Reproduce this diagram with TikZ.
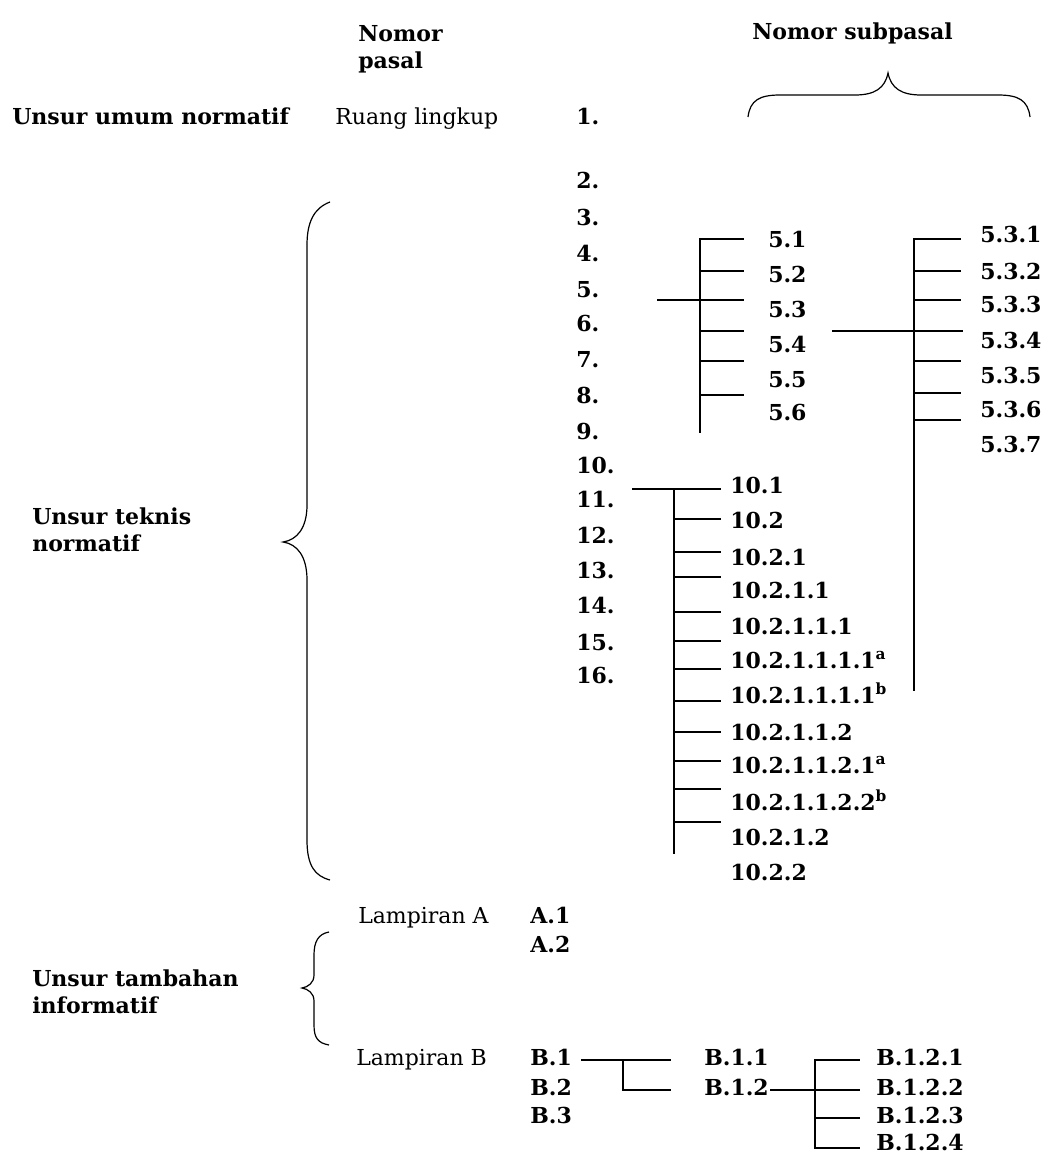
\documentclass[tikz,border=0pt]{standalone}
\usepackage{fontspec}
\setmainfont{DejaVu Serif}
\begin{document}
\begin{tikzpicture}[x=0.75pt,y=-0.75pt,
  lbl/.style={font=\bfseries\fontsize{16.5}{20}\selectfont, anchor=west, inner sep=0pt, text height=1.5ex, text depth=0pt},
  reg/.style={font=\fontsize{16.5}{20}\selectfont, anchor=west, inner sep=0pt, text height=1.5ex, text depth=0pt},
  grp/.style={font=\bfseries\fontsize{16.5}{20.5}\selectfont, anchor=west, inner sep=0pt, align=left},
  tree/.style={line width=1.5pt, line cap=rect},
  brace/.style={line width=0.9pt}]
\useasboundingbox (0,0) rectangle (1049,1155);

% column headings
\node[grp] (hpasal) at (358,49) {Nomor\\pasal};
\node[lbl] (hsub) at (752,34) {Nomor subpasal};

% brace over the subclause columns
\draw[brace] (748,117) .. controls (750,100) and (760,95) .. (780,95) -- (855,95)
  .. controls (875,95) and (885,88) .. (888,73)
  .. controls (891,88) and (901,95) .. (921,95) -- (998,95)
  .. controls (1018,95) and (1028,100) .. (1030,117);

% element groups
\node[lbl] (gumum) at (12,119) {Unsur umum normatif};
\node[reg] (ruang) at (335,119) {Ruang lingkup};
\node[grp] (gteknis) at (32,530) {Unsur teknis\\normatif};
\node[grp] (gtambah) at (32,992) {Unsur tambahan\\informatif};

% clause numbers
\node[lbl] (p1) at (576,119) {1.};
\foreach \n/\y in {2/183,3/220,4/256,5/292,6/326,7/362,8/398,9/434,
                   10/468,11/502,12/538,13/573,14/608,15/645,16/678}
  \node[lbl] (p\n) at (576,\y) {\n.};

% brace for the technical elements
\draw[brace] (330,202) .. controls (314,208) and (307,222) .. (307,245) -- (307,505)
  .. controls (307,528) and (297,540) .. (283,542)
  .. controls (297,544) and (307,556) .. (307,580) -- (307,840)
  .. controls (307,866) and (315,876) .. (330,880);

% subclauses of clause 5
\foreach \t/\y [count=\i] in {5.1/242,5.2/277,5.3/312,5.4/347,5.5/382,5.6/415}
  \node[lbl] (q\i) at (768,\y) {\t};
\coordinate (q-top) at (700,239);
\coordinate (q-bot) at (700,432);
\coordinate (q-in) at (658,300);
\draw[tree] (743,239) -- (q-top) -- (q-bot);
\draw[tree] (q-in) -- (743,300);
\foreach \y in {271,331,361,395} \draw[tree] (700,\y) -- (743,\y);

% subclauses of 5.3
\foreach \t/\y [count=\i] in {5.3.1/237,5.3.2/274,5.3.3/307,5.3.4/343,5.3.5/378,5.3.6/412,5.3.7/447}
  \node[lbl] (r\i) at (980,\y) {\t};
\coordinate (r-top) at (914,239);
\coordinate (r-bot) at (914,690);
\coordinate (r-in) at (833,331);
\draw[tree] (960,239) -- (r-top) -- (r-bot);
\draw[tree] (r-in) -- (962,331);
\foreach \y in {271,300,361,393,420} \draw[tree] (914,\y) -- (960,\y);

% subclauses of clause 10
\foreach \t/\y [count=\i] in {10.1/488,10.2/523,10.2.1/560,10.2.1.1/593,10.2.1.1.1/629,
    10.2.1.1.1.1\textsuperscript{a}/663,10.2.1.1.1.1\textsuperscript{b}/698,
    10.2.1.1.2/735,10.2.1.1.2.1\textsuperscript{a}/768,10.2.1.1.2.2\textsuperscript{b}/805,
    10.2.1.2/840,10.2.2/875}
  \node[lbl] (u\i) at (730,\y) {\t};
\coordinate (u-in) at (633,489);
\coordinate (u-top) at (674,489);
\coordinate (u-bot) at (674,853);
\draw[tree] (u-in) -- (720,489);
\draw[tree] (u-top) -- (u-bot);
\foreach \y in {519,552,577,612,641,669,701,732,761,789,822} \draw[tree] (674,\y) -- (720,\y);

% annexes
\node[reg] (lampA) at (358,918) {Lampiran A};
\node[lbl] (a1) at (530,918) {A.1};
\node[lbl] (a2) at (530,947) {A.2};
\node[reg] (lampB) at (356,1060) {Lampiran B};
\node[lbl] (b1) at (530,1060) {B.1};
\node[lbl] (b2) at (530,1090) {B.2};
\node[lbl] (b3) at (530,1118) {B.3};
\node[lbl] (b11) at (704,1060) {B.1.1};
\node[lbl] (b12) at (704,1090) {B.1.2};
\foreach \t/\y [count=\i] in {B.1.2.1/1060,B.1.2.2/1090,B.1.2.3/1118,B.1.2.4/1145}
  \node[lbl] (c\i) at (876,\y) {\t};

% brace for the informative elements
\draw[brace] (329,932) .. controls (318,934) and (314,942) .. (314,955) -- (314,975)
  .. controls (314,983) and (308,987) .. (302,988)
  .. controls (308,989) and (314,993) .. (314,1001) -- (314,1025)
  .. controls (314,1038) and (318,1043) .. (329,1045);

% annex B tree
\draw[tree] (b1.east) ++(10,0) coordinate (b1-out) -- (670,1060);
\draw[tree] (623,1060) -- (623,1090) -- (670,1090);
\draw[tree] (b12.east) ++(2,0) coordinate (b12-out) -- (859,1090);
\draw[tree] (859,1060) -- (815,1060) -- (815,1148) -- (859,1148);
\draw[tree] (815,1118) -- (859,1118);
\end{tikzpicture}
\end{document}
